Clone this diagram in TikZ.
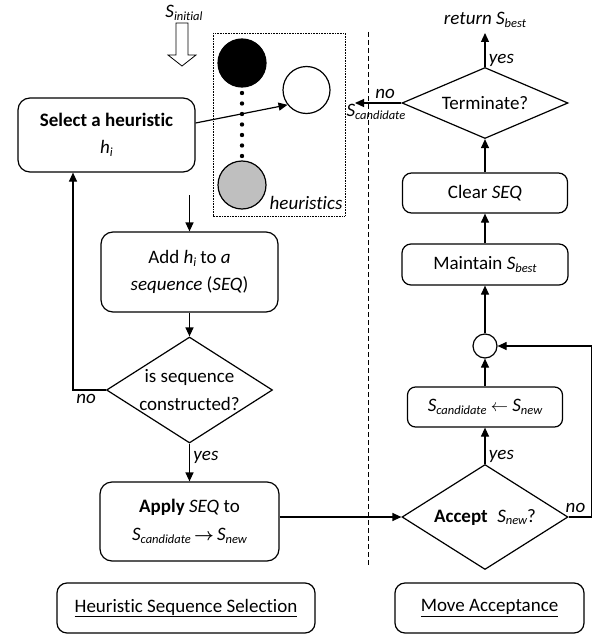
\documentclass[tikz,border=0pt]{standalone}
\usepackage{fontspec}
\setmainfont{Carlito}[Ligatures=NoCommon]
\usetikzlibrary{arrows.meta,shapes.geometric}
\newcommand\subtxt[1]{\raisebox{-0.15em}{\fontsize{12.5}{12.5}\selectfont #1}}
\newcommand\Sx[1]{\textit{S\subtxt{#1}}}

\begin{document}
\begin{tikzpicture}[x=1pt,y=-1pt,line width=1.2pt,
    font=\fontsize{19}{27.5}\selectfont,
    >={Triangle[length=9pt,width=8pt]},
    box/.style={draw,rounded corners=12pt,align=center,inner sep=0pt},
    decision/.style={draw,diamond,inner sep=0pt,minimum width=166pt},
    lbl/.style={font=\fontsize{19}{22}\selectfont\itshape}]
\useasboundingbox (0,0) rectangle (596,634);

\begin{scope}
    \node[lbl] (sinit) at (184,13) {\Sx{initial}};
    \draw[line width=0.8pt,fill=white] (176,23) -- (188,23) -- (188,55) -- (196,55)
        -- (182,66) -- (168,55) -- (176,55) -- cycle;
    \draw[line width=0.6pt,dash pattern=on 0.8pt off 0.8pt] (213,33) rectangle (345,216);
    \node[circle,draw,fill=black,minimum size=48pt,inner sep=0pt] (hblack) at (242,63) {};
    \node[circle,draw,fill=white,minimum size=47pt,inner sep=0pt] (hwhite) at (306.5,90) {};
    \node[circle,draw,fill=black!25,minimum size=48pt,inner sep=0pt] (hgray) at (242,185) {};
    \foreach \y in {93,103.5,...,156}
    {
        \fill (242,\y) circle (2.2pt);
    }
    \node[lbl,anchor=east,inner sep=1pt] (heur) at (344,203) {heuristics};
\end{scope}

\node[box,minimum width=177pt,minimum height=74pt] (sel) at (106.5,135)
    {\textbf{Select a heuristic}\\\textit{h\subtxt{i}}};
\node[box,minimum width=177pt,minimum height=80pt] (add) at (189.5,272)
    {Add \textit{h\subtxt{i}} to \textit{a}\\\textit{sequence} (\textit{SEQ})};
\node[decision,minimum height=106pt,label={[align=center]center:is sequence\\constructed?}] (dec1) at (189.5,390) {};
\node[box,minimum width=179pt,minimum height=79pt] (apply) at (189.5,521.5)
    {\textbf{Apply} \textit{SEQ} to\\\Sx{candidate}\,{\boldmath$\rightarrow$}\,\Sx{new}};

\node[decision,minimum height=105pt,label={center:\textbf{Accept}\enspace\Sx{new}?}] (acc) at (485,517) {};
\node[box,rounded corners=8pt,minimum width=155pt,minimum height=40pt] (scand) at (485,407)
    {\Sx{candidate} $\leftarrow$ \Sx{new}};
\node[circle,draw,minimum size=24pt,inner sep=0pt] (junc) at (485,346) {};
\node[box,rounded corners=9pt,minimum width=166pt,minimum height=41pt] (maint) at (485,264.5)
    {Maintain \Sx{best}};
\node[box,rounded corners=9pt,minimum width=165pt,minimum height=40pt] (clear) at (485,193)
    {Clear \textit{SEQ}};
\node[decision,minimum height=71pt,label={center:Terminate?}] (term) at (485,103) {};
\node[lbl] (ret) at (485,20) {return \Sx{best}};

\node[box,rounded corners=10pt,minimum width=258pt,minimum height=50pt] (hss) at (186,608)
    {\underline{Heuristic Sequence Selection}};
\node[box,rounded corners=10pt,minimum width=189pt,minimum height=50pt] (ma) at (489.5,608)
    {\underline{Move Acceptance}};

\coordinate (addin) at (189.5,195);
\coordinate (retpt) at (485,33);
\coordinate (nopt) at (355,103);

\draw[dashed,line width=0.8pt,dash pattern=on 5pt off 3pt] (368,32) -- (368,566);

\draw[->] ([yshift=12pt]sel.east) -- (hwhite.218);
\draw[->] (addin) -- (add.north);
\draw[->] (add) -- (dec1);
\draw[->] (dec1.west) -| node[lbl,pos=0.3,below] (no0) {no} ([xshift=-33.5pt]sel.south);
\draw[->] (dec1.south) -- node[lbl,right,pos=0.36] (yes0) {yes} (apply.north);
\draw[->] (apply.east |- acc.west) -- (acc.west);

\draw[->] (acc.north) -- node[lbl,right,pos=0.2] (yes1) {yes} (scand.south);
\draw[->] (acc.east) -- node[lbl,above,pos=0.3] (no1) {no} ++(23,0) |- (junc.east);
\draw[->] (scand) -- (junc);
\draw[->] (junc) -- (maint);
\draw[->] (maint) -- (clear);
\draw[->] (clear) -- (term);
\draw[->] (term.north) -- node[lbl,right,pos=0.19] (yes2) {yes} (retpt);
\draw[->] (term.west) -- node[lbl,above,pos=0.35] (no2) {no}
    node[lbl,below,pos=0.55,inner sep=1pt] (scd) {\Sx{candidate}} (nopt);
\end{tikzpicture}
\end{document}
